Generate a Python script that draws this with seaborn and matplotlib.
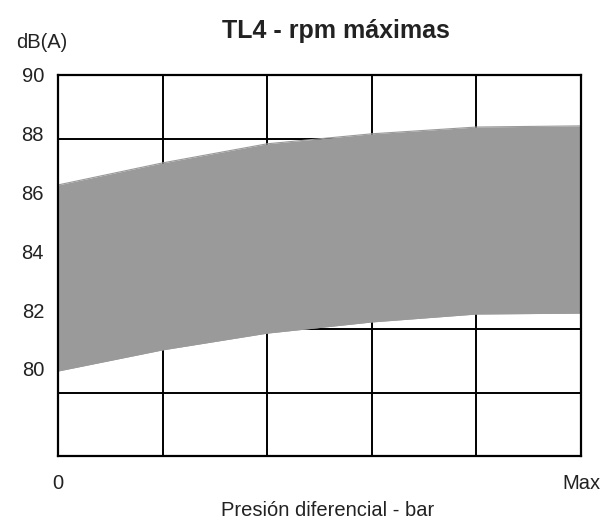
import numpy as np
import pandas as pd
import matplotlib
matplotlib.use("Agg")
import matplotlib.pyplot as plt
import seaborn as sns

# Data
positions = [0, 1, 2, 3, 4, 5]            # 0 .. Max (5 equal steps)
upper_db = [86.26, 87.01, 87.66, 88.00, 88.23, 88.27]
lower_db = [79.93, 80.65, 81.22, 81.60, 81.87, 81.90]
y_ticks = [80, 82, 84, 86, 88, 90]
x_tick_labels = ["0", "Max"]
title = "TL4 - rpm máximas"
x_title = "Presión diferencial - bar"
y_title = "dB(A)"

df = pd.DataFrame({"x": positions, "upper": upper_db, "lower": lower_db})

sns.set_theme(style="white")
plt.rcParams["font.family"] = ["Liberation Sans", "DejaVu Sans"]

fig = plt.figure(figsize=(6.1, 5.2), dpi=100)
ax = fig.add_axes([58 / 610, 1 - 456 / 520, 523 / 610, 381 / 520])

ylim = (77.04, 90)
xlim = (positions[0], positions[-1])
ax.set_xlim(*xlim)
ax.set_ylim(*ylim)

# grid: 5 vertical cells, 6 horizontal cells
for gx in np.linspace(xlim[0], xlim[1], 6)[1:-1]:
    ax.axvline(gx, color="black", lw=1.4, zorder=1)
for gy in np.linspace(ylim[0], ylim[1], 7)[1:-1]:
    ax.axhline(gy, color="black", lw=1.4, zorder=1)

ax.fill_between(df["x"], df["lower"], df["upper"], color="#9a9a9a", lw=0, zorder=2)
sns.lineplot(data=df, x="x", y="upper", color="#9a9a9a", lw=0.8, ax=ax, zorder=2)
sns.lineplot(data=df, x="x", y="lower", color="#9a9a9a", lw=0.8, ax=ax, zorder=2)

for s in ax.spines.values():
    s.set_visible(True)
    s.set_color("black")
    s.set_linewidth(1.6)
    s.set_zorder(3)

ax.set_yticks(y_ticks)
ax.set_yticklabels([str(v) for v in y_ticks])
ax.set_xticks([xlim[0], xlim[1]])
ax.set_xticklabels(x_tick_labels)
ax.tick_params(axis="both", length=0, labelsize=14.5, colors="#222222")
ax.tick_params(axis="y", pad=10)
ax.tick_params(axis="x", pad=13)

ax.set_xlabel(x_title, fontsize=14.5, color="#222222", labelpad=6)
ax.xaxis.label.set_x(270 / 523)
ax.set_ylabel("")

fig.text(336 / 610, 1 - 31 / 520, title, fontsize=18, fontweight="bold",
         ha="center", va="center", color="#222222")
fig.text(16 / 610, 1 - 43 / 520, y_title, fontsize=14.5, ha="left", va="center",
         color="#222222")

fig.savefig("out.png", dpi=100)
